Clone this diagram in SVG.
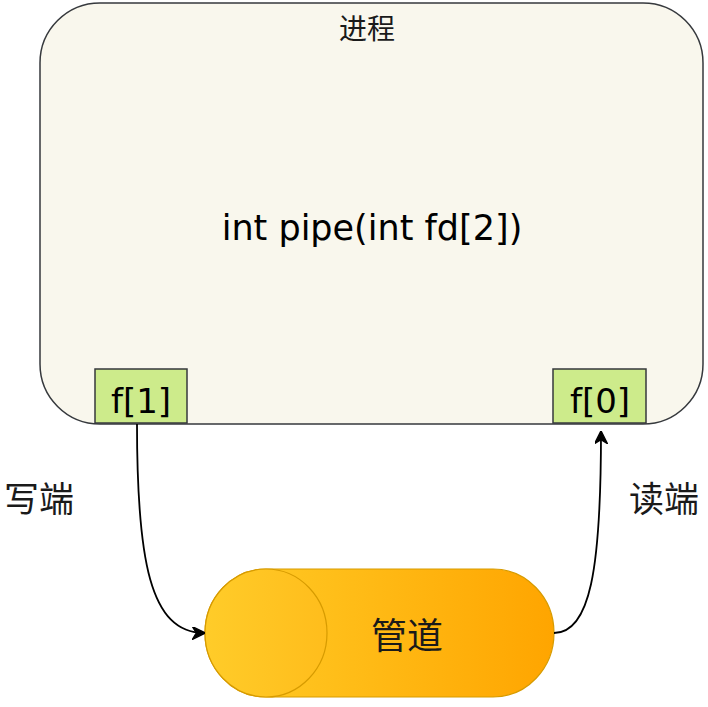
<svg xmlns="http://www.w3.org/2000/svg" width="708" height="707" viewBox="0 0 708 707">
<defs>
<style>
.lbl{font-family:"Noto Sans CJK SC","Noto Sans",sans-serif;fill:#1a1a1a;text-anchor:middle;dominant-baseline:central}
.code{font-family:"DejaVu Sans","Noto Sans",sans-serif;fill:#000;text-anchor:middle}
.fd{fill:#cdeb8b;stroke:#36393d;stroke-width:1.5}
.edge{fill:none;stroke:#000;stroke-width:1.8}
</style>
<linearGradient id="pg" x1="0" y1="0" x2="1" y2="0">
<stop offset="0" stop-color="#ffcd28"/>
<stop offset="1" stop-color="#ffa500"/>
</linearGradient>
<linearGradient id="pg2" x1="0" y1="0" x2="1" y2="0">
<stop offset="0" stop-color="#ffcc29"/>
<stop offset="1" stop-color="#ffbd1c"/>
</linearGradient>
<marker id="arr" viewBox="0 0 10 10" refX="9" refY="5" markerWidth="13" markerHeight="13" markerUnits="userSpaceOnUse" orient="auto">
<path d="M0,0 L10,5 L0,10 L3,5 Z" fill="#000" stroke="#000" stroke-width="1"/>
</marker>
</defs>
<g id="process">
<rect x="40" y="3" width="663" height="421" rx="60" ry="60" fill="#f9f7ed" stroke="#36393d" stroke-width="1.5"/>
<text class="lbl" x="367" y="27" font-size="28">进程</text>
<text class="code" x="372" y="240" font-size="35">int pipe(int fd[2])</text>
</g>
<g id="f1">
<rect class="fd" x="95" y="369" width="92" height="54"/>
<text class="code" x="141" y="413" font-size="34">f[1]</text>
</g>
<g id="f0">
<rect class="fd" x="553" y="369" width="93" height="54"/>
<text class="code" x="600" y="413" font-size="34">f[0]</text>
</g>
<g id="pipe">
<path d="M266,569 L493,569 A61,64 0 0 1 493,697 L266,697 A61,64 0 0 1 266,569 Z" fill="url(#pg)" stroke="#d79b00" stroke-width="1.2"/>
<path d="M266,569 A61,64 0 0 1 266,697 A61,64 0 0 1 266,569 Z" fill="url(#pg2)" stroke="#d79b00" stroke-width="1.2"/>
<text class="lbl" x="407" y="633" font-size="36">管道</text>
</g>
<g id="connectors">
<path class="edge" d="M137,424 C137,560 150,633 204,633" marker-end="url(#arr)"/>
<path class="edge" d="M554,633 C590,633 601,570 601,432" marker-end="url(#arr)"/>
</g>
<g id="labels">
<text class="lbl" x="39" y="496" font-size="35">写端</text>
<text class="lbl" x="664" y="496" font-size="35">读端</text>
</g>
</svg>
